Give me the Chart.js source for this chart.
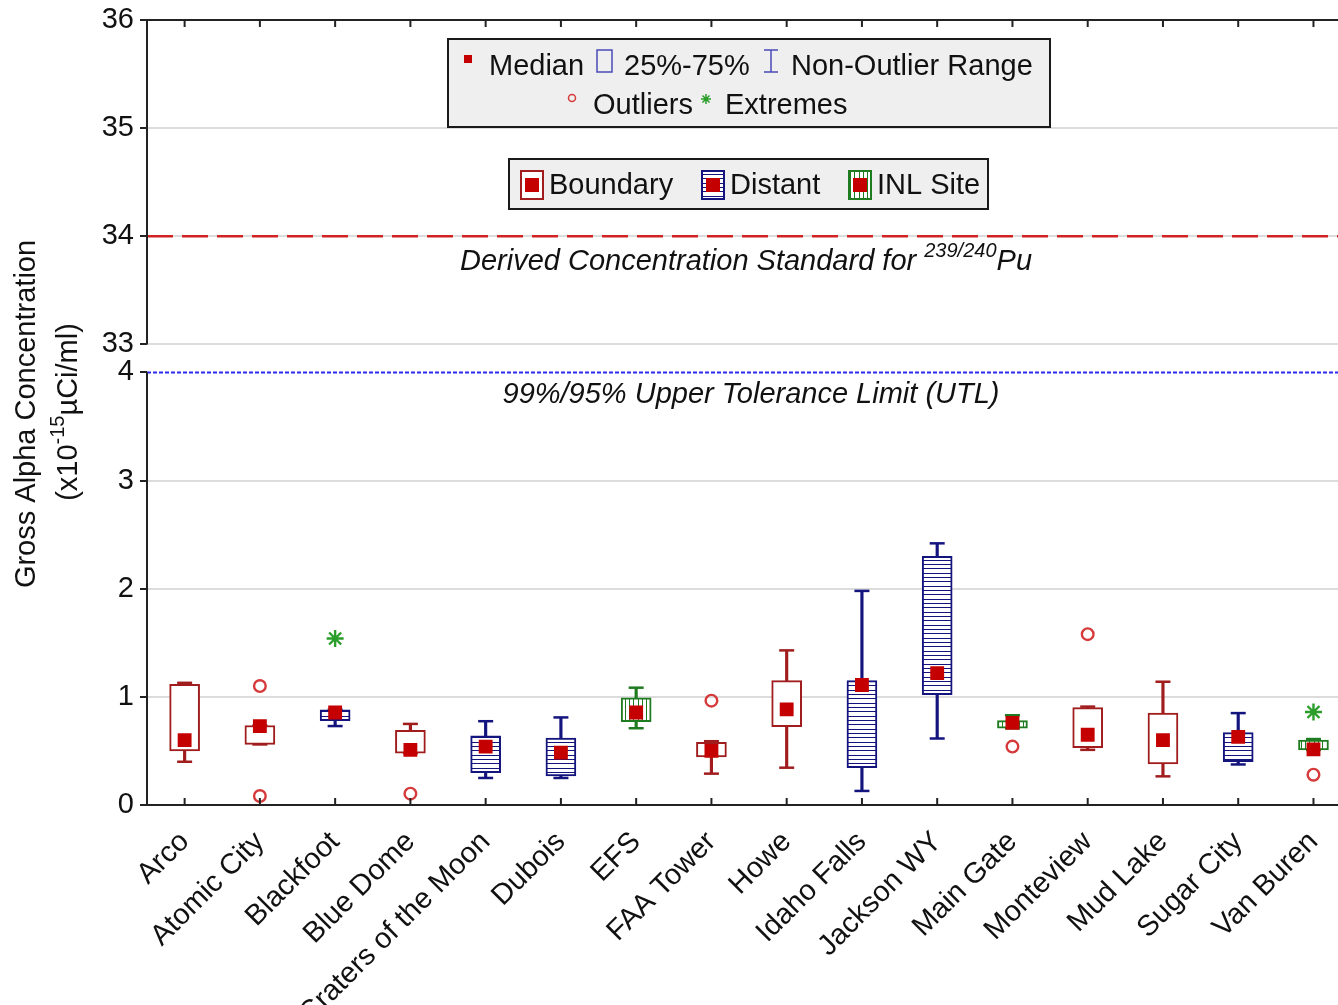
<!DOCTYPE html>
<html>
<head>
<meta charset="utf-8">
<script src="https://cdn.jsdelivr.net/npm/chart.js@4.4.0/dist/chart.umd.min.js"></script>
<style>
  html, body { margin: 0; padding: 0; background: #fff; overflow: hidden; }
  #wrap { width: 1362px; height: 1005px; }
</style>
</head>
<body>
<div id="wrap"><canvas id="gross-alpha"></canvas></div>
<script>
/*-----------------------------
Data (gross alpha, x10^-15 uCi/ml)
------------------------------*/
const sites = ['Arco', 'Atomic City', 'Blackfoot', 'Blue Dome', 'Craters of the Moon', 'Dubois', 'EFS',
  'FAA Tower', 'Howe', 'Idaho Falls', 'Jackson WY', 'Main Gate', 'Monteview', 'Mud Lake', 'Sugar City', 'Van Buren'];
const groups = ['Boundary', 'Boundary', 'Distant', 'Boundary', 'Distant', 'Distant', 'INL Site',
  'Boundary', 'Boundary', 'Distant', 'Distant', 'INL Site', 'Boundary', 'Boundary', 'Distant', 'INL Site'];

const q1 = [0.50, 0.56, 0.78, 0.48, 0.30, 0.27, 0.77, 0.445, 0.725, 0.345, 1.02, 0.71, 0.53, 0.38, 0.40, 0.51];
const q3 = [1.115, 0.735, 0.88, 0.69, 0.64, 0.62, 0.99, 0.58, 1.15, 1.15, 2.30, 0.78, 0.90, 0.85, 0.67, 0.60];
const medians = [0.60, 0.73, 0.855, 0.51, 0.54, 0.485, 0.855, 0.50, 0.885, 1.11, 1.22, 0.76, 0.65, 0.60, 0.63, 0.515];
const whiskLow = [0.40, 0.56, 0.73, 0.48, 0.25, 0.25, 0.71, 0.29, 0.345, 0.13, 0.615, 0.71, 0.51, 0.265, 0.375, 0.51];
const whiskHigh = [1.13, 0.735, 0.88, 0.75, 0.775, 0.81, 1.085, 0.59, 1.43, 1.98, 2.42, 0.83, 0.91, 1.14, 0.85, 0.61];
const outHigh = [null, 1.10, null, null, null, null, null, 0.965, null, null, null, null, 1.58, null, null, null];
const outLow = [null, 0.083, null, 0.105, null, null, null, null, null, null, null, 0.54, null, null, null, 0.28];
const extremes = [null, null, 1.54, null, null, null, null, null, null, null, null, null, null, null, null, 0.86];

const yTicks = [0, 1, 2, 3, 4, 33, 34, 35, 36];
const DCS = 34;   // derived concentration standard for 239/240Pu
const UTL = 4;    // 99%/95% upper tolerance limit

//----------------------------------------
// Broken axis: 0-4 and 33-36 on one scale
//----------------------------------------
const BREAK_LOW = 4;
const BREAK_HIGH = 33;
const BREAK_GAP = 0.26;
function toAxis(v) {
  if (v === null) return null;
  return v <= BREAK_LOW ? v : v - BREAK_HIGH + BREAK_LOW + BREAK_GAP;
}

const FONT = '"Liberation Sans", Arial, Helvetica, sans-serif';
const groupColor = { 'Boundary': '#a11d1d', 'Distant': '#14147e', 'INL Site': '#1f7b1f' };
const medianColor = '#c40000';
const outlierColor = '#d63a3a';
const extremeColor = '#2a9d2a';

function stripes(color, vertical) {
  const t = document.createElement('canvas');
  t.width = 13; t.height = 13;
  const c = t.getContext('2d');
  c.fillStyle = '#fff';
  c.fillRect(0, 0, 13, 13);
  c.fillStyle = color;
  [1, 5, 9].forEach(p => {
    if (vertical) c.fillRect(p, 0, 1, 13);
    else c.fillRect(0, p, 13, 1);
  });
  return c.createPattern(t, 'repeat');
}
const ctxMain = document.getElementById('gross-alpha').getContext('2d');
const groupFill = {
  'Boundary': '#ffffff',
  'Distant': stripes(groupColor['Distant'], false),
  'INL Site': stripes(groupColor['INL Site'], true)
};
const colors = groups.map(g => groupColor[g]);
const fills = groups.map(g => groupFill[g]);

//----------------------------------------
// Drawing helpers for frame, labels, legends
//----------------------------------------
function supText(ctx, parts, x, y, align, italic) {
  // parts: [text, isSup]
  const st = italic ? 'italic ' : '';
  let total = 0;
  parts.forEach(p => {
    ctx.font = st + (p[1] ? '20px ' : '29px ') + FONT;
    total += ctx.measureText(p[0]).width;
  });
  let cx = align === 'center' ? x - total / 2 : x;
  ctx.textAlign = 'left';
  ctx.textBaseline = 'middle';
  parts.forEach(p => {
    ctx.font = st + (p[1] ? '20px ' : '29px ') + FONT;
    ctx.fillText(p[0], cx, p[1] ? y - 11 : y);
    cx += ctx.measureText(p[0]).width;
  });
}

function legendIcon(ctx, x, y, g) {
  ctx.fillStyle = groupFill[g];
  ctx.fillRect(x, y, 22, 28);
  ctx.strokeStyle = groupColor[g];
  ctx.lineWidth = 2;
  ctx.strokeRect(x, y, 22, 28);
  ctx.fillStyle = medianColor;
  ctx.fillRect(x + 4, y + 7, 14, 14);
}

const frame = {
  id: 'frame',
  beforeDatasetsDraw(chart) {
    const { ctx, chartArea: a, scales: { y } } = chart;
    ctx.save();
    // reference lines
    const yD = y.getPixelForValue(toAxis(DCS));
    const yU = y.getPixelForValue(toAxis(UTL));
    ctx.lineWidth = 2.5;
    ctx.strokeStyle = '#d02424';
    ctx.setLineDash([26, 9]);
    ctx.beginPath(); ctx.moveTo(a.left, yD); ctx.lineTo(a.right, yD); ctx.stroke();
    ctx.lineWidth = 2;
    ctx.strokeStyle = '#2a2aee';
    ctx.setLineDash([4, 2]);
    ctx.beginPath(); ctx.moveTo(a.left, yU); ctx.lineTo(a.right, yU); ctx.stroke();
    ctx.setLineDash([]);
    ctx.fillStyle = '#111';
    supText(ctx, [['Derived Concentration Standard for ', false], ['239/240', true], ['Pu', false]], 746, yD + 26, 'center', true);
    supText(ctx, [['99%/95% Upper Tolerance Limit (UTL)', false]], 751, yU + 22, 'center', true);
    ctx.restore();
  },
  afterDraw(chart) {
    const { ctx, chartArea: a, scales: { x, y } } = chart;
    ctx.save();
    ctx.strokeStyle = '#222';
    ctx.lineWidth = 2;
    // broken left axis + top/bottom borders
    ctx.beginPath();
    ctx.moveTo(a.left, y.getPixelForValue(toAxis(36)) - 1);
    ctx.lineTo(a.left, y.getPixelForValue(toAxis(33)));
    ctx.moveTo(a.left, y.getPixelForValue(toAxis(4)));
    ctx.lineTo(a.left, y.getPixelForValue(0) + 1);
    ctx.moveTo(a.left, a.top);
    ctx.lineTo(a.right, a.top);
    ctx.moveTo(a.left, a.bottom);
    ctx.lineTo(a.right, a.bottom);
    sites.forEach((s, i) => {
      const px = x.getPixelForValue(i);
      ctx.moveTo(px, a.bottom); ctx.lineTo(px, a.bottom - 7);
      ctx.moveTo(px, a.top); ctx.lineTo(px, a.top + 7);
    });
    ctx.stroke();

    // y axis title
    ctx.fillStyle = '#111';
    ctx.save();
    ctx.translate(27, 414);
    ctx.rotate(-Math.PI / 2);
    supText(ctx, [['Gross Alpha Concentration', false]], 0, 0, 'center', false);
    ctx.restore();
    ctx.save();
    ctx.translate(69, 412);
    ctx.rotate(-Math.PI / 2);
    supText(ctx, [['(x10', false], ['-15', true], ['\u00b5Ci/ml)', false]], 0, 0, 'center', false);
    ctx.restore();

    // legend 1: box plot symbols
    ctx.fillStyle = '#efefef';
    ctx.fillRect(448, 39, 602, 88);
    ctx.strokeStyle = '#1a1a1a';
    ctx.lineWidth = 2;
    ctx.strokeRect(448, 39, 602, 88);
    ctx.fillStyle = medianColor;
    ctx.fillRect(464, 55, 8, 8);
    ctx.strokeStyle = '#4b4bb8';
    ctx.lineWidth = 1.5;
    ctx.strokeRect(597, 50, 15, 22);
    ctx.beginPath();
    ctx.moveTo(764, 50); ctx.lineTo(778, 50);
    ctx.moveTo(771, 50); ctx.lineTo(771, 72);
    ctx.moveTo(764, 72); ctx.lineTo(778, 72);
    ctx.stroke();
    ctx.strokeStyle = outlierColor;
    ctx.beginPath(); ctx.arc(572, 98, 3.5, 0, Math.PI * 2); ctx.stroke();
    ctx.strokeStyle = extremeColor;
    ctx.beginPath();
    for (let k = 0; k < 4; k++) {
      const ang = k * Math.PI / 4;
      ctx.moveTo(706 - 5 * Math.cos(ang), 99 - 5 * Math.sin(ang));
      ctx.lineTo(706 + 5 * Math.cos(ang), 99 + 5 * Math.sin(ang));
    }
    ctx.stroke();
    ctx.fillStyle = '#111';
    supText(ctx, [['Median', false]], 489, 67, 'left', false);
    supText(ctx, [['25%-75%', false]], 624, 67, 'left', false);
    supText(ctx, [['Non-Outlier Range', false]], 791, 67, 'left', false);
    supText(ctx, [['Outliers', false]], 593, 106, 'left', false);
    supText(ctx, [['Extremes', false]], 725, 106, 'left', false);

    // legend 2: site groups
    ctx.fillStyle = '#efefef';
    ctx.fillRect(509, 159, 479, 50);
    ctx.strokeStyle = '#1a1a1a';
    ctx.lineWidth = 2;
    ctx.strokeRect(509, 159, 479, 50);
    legendIcon(ctx, 521, 171, 'Boundary');
    legendIcon(ctx, 702, 171, 'Distant');
    legendIcon(ctx, 849, 171, 'INL Site');
    ctx.fillStyle = '#111';
    supText(ctx, [['Boundary', false]], 549, 186, 'left', false);
    supText(ctx, [['Distant', false]], 730, 186, 'left', false);
    supText(ctx, [['INL Site', false]], 877, 186, 'left', false);
    ctx.restore();
  }
};

//----------------------------------------
// Box plot chart
//----------------------------------------
new Chart(ctxMain, {
  type: 'bar',
  data: {
    labels: sites,
    datasets: [
      {
        type: 'line', label: 'Median', data: medians.map(toAxis), showLine: false,
        pointStyle: 'rect', pointRadius: 9.8, pointBackgroundColor: medianColor, pointBorderWidth: 0
      },
      {
        type: 'line', label: 'Outliers', data: outHigh.map(toAxis), showLine: false,
        pointStyle: 'circle', pointRadius: 5.8, pointBackgroundColor: 'rgba(0,0,0,0)',
        pointBorderColor: outlierColor, pointBorderWidth: 2.4
      },
      {
        type: 'line', label: 'Outliers low', data: outLow.map(toAxis), showLine: false,
        pointStyle: 'circle', pointRadius: 5.8, pointBackgroundColor: 'rgba(0,0,0,0)',
        pointBorderColor: outlierColor, pointBorderWidth: 2.4
      },
      {
        type: 'line', label: 'Extremes', data: extremes.map(toAxis), showLine: false,
        pointStyle: 'star', pointRadius: 8.5, pointBorderColor: extremeColor, pointBorderWidth: 2.4
      },
      {
        label: '25%-75%', data: q1.map((v, i) => [toAxis(v), toAxis(q3[i])]),
        backgroundColor: fills, borderColor: colors, borderWidth: 2, borderSkipped: false,
        barThickness: 30, grouped: false
      },
      {
        type: 'line', label: 'Whisker high', data: whiskHigh.map(toAxis), showLine: false,
        pointStyle: 'line', pointRadius: 7.5, pointBorderColor: colors, pointBorderWidth: 2.5
      },
      {
        type: 'line', label: 'Whisker low', data: whiskLow.map(toAxis), showLine: false,
        pointStyle: 'line', pointRadius: 7.5, pointBorderColor: colors, pointBorderWidth: 2.5
      },
      {
        label: 'Non-Outlier Range', data: whiskLow.map((v, i) => [toAxis(v), toAxis(whiskHigh[i])]),
        backgroundColor: colors, borderWidth: 0, barThickness: 2.5, grouped: false
      }
    ]
  },
  options: {
    responsive: true,
    maintainAspectRatio: false,
    animation: false,
    layout: { padding: { top: 20, left: 0, right: 0, bottom: 0 } },
    plugins: {
      legend: { display: false },
      tooltip: { enabled: false }
    },
    scales: {
      x: {
        grid: { display: false },
        border: { display: false },
        ticks: {
          autoSkip: false, maxRotation: 45, minRotation: 45, padding: 12,
          color: '#111', font: { size: 29, family: FONT }
        },
        afterFit: (scale) => { scale.height = 200; }
      },
      y: {
        min: 0,
        max: toAxis(36),
        afterBuildTicks: (scale) => { scale.ticks = yTicks.map(v => ({ value: toAxis(v) })); },
        ticks: {
          callback: (value, index) => yTicks[index],
          padding: 6, color: '#111', font: { size: 29, family: FONT }
        },
        grid: {
          color: (c) => [1, 2, 3, 33, 34, 35].includes(yTicks[c.index]) ? '#dcdcdc' : 'rgba(0,0,0,0)',
          lineWidth: 2, drawTicks: true, tickLength: 7, tickColor: '#222', tickWidth: 2
        },
        border: { display: false },
        afterFit: (scale) => {
          scale.width = 147;
          scale.paddingTop = 0;
          scale.paddingBottom = 0;
        }
      }
    }
  },
  plugins: [frame]
});
</script>
</body>
</html>
